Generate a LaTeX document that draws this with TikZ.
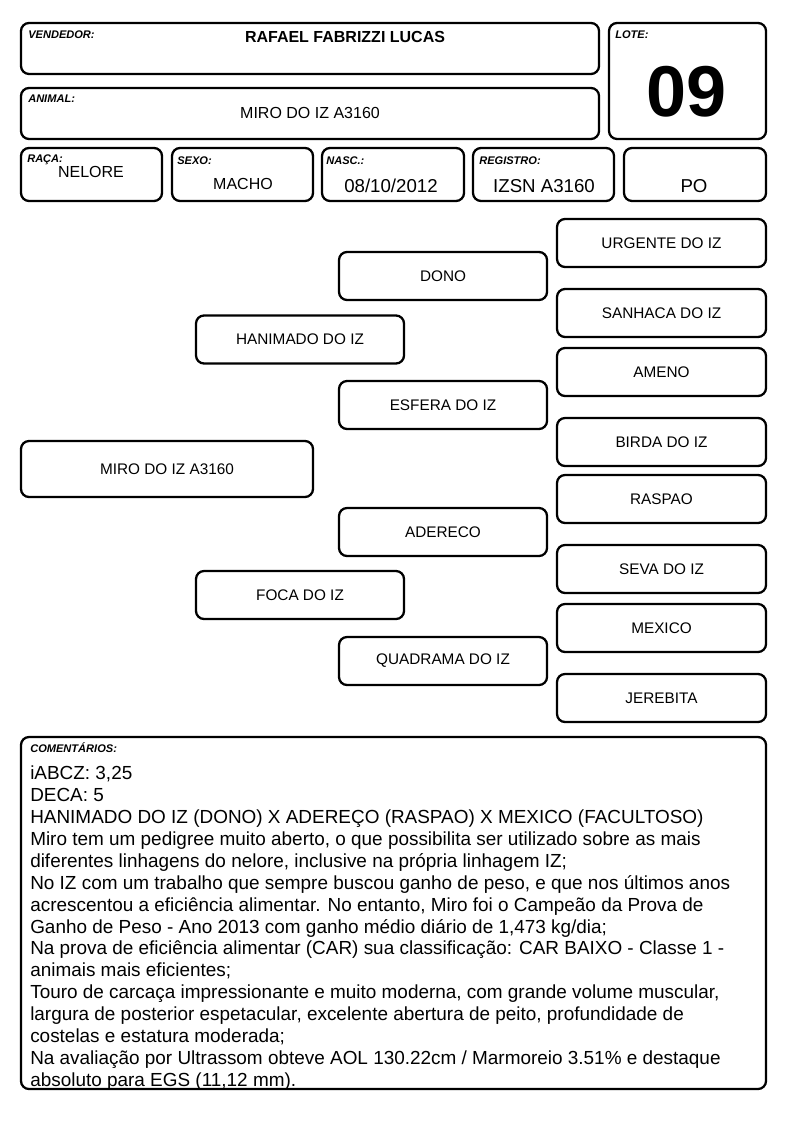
\documentclass[tikz,border=0pt]{standalone}
\usepackage{fontspec}
\setmainfont{Liberation Sans}
\tikzset{
  box/.style={draw, line width=1.7pt, rounded corners=6pt},
  pedbox/.style={box, minimum width=156pt, minimum height=36pt, inner sep=0pt, font=\fontsize{11.5}{14}\selectfont},
  tag/.style={anchor=base west, inner sep=0pt, font=\fontsize{8.3}{9}\selectfont\bfseries\itshape},
  value/.style={inner sep=0pt, font=\fontsize{12}{14}\selectfont},
  bigvalue/.style={inner sep=0pt, font=\fontsize{14}{16}\selectfont},
}
\begin{document}
\begin{tikzpicture}[x=0.75pt,y=-0.75pt]
\useasboundingbox (0,0) rectangle (794,1123);
% header boxes
\draw[box] (21,23) rectangle (599,74);
\draw[box] (21,88) rectangle (599,139);
\draw[box] (609,23) rectangle (766,139);
\draw[box] (21,148) rectangle (162,201);
\draw[box] (172,148) rectangle (313,201);
\draw[box] (322,148) rectangle (464,201);
\draw[box] (473,148) rectangle (614,201);
\draw[box] (624,148) rectangle (766,201);
\node[tag] (tvend) at (28,38.5) {VENDEDOR:};
\node[value, font=\fontsize{12}{13}\selectfont\bfseries] (vend) at (345,37) {RAFAEL FABRIZZI LUCAS};
\node[tag] (tanim) at (28,103) {ANIMAL:};
\node[value] (anim) at (310,113) {MIRO DO IZ A3160};
\node[tag] (tlote) at (615,39) {LOTE:};
\node[inner sep=0pt, font=\fontsize{54}{54}\selectfont\bfseries] (lote) at (687,92) {09};
\node[tag] (traca) at (27,163) {RAÇA:};
\node[value] (raca) at (91,172) {NELORE};
\node[tag] (tsexo) at (177,165) {SEXO:};
\node[value] (sexo) at (243,184) {MACHO};
\node[tag] (tnasc) at (326,165) {NASC.:};
\node[bigvalue] (nasc) at (391,186) {08/10/2012};
\node[tag] (treg) at (479,165) {REGISTRO:};
\node[bigvalue] (reg) at (544,186) {IZSN A3160};
\node[bigvalue] (cat) at (694,186) {PO};
% pedigree
\node[pedbox, minimum width=219pt, minimum height=42pt] (miro) at (167,469) {MIRO DO IZ A3160};
\node[pedbox] (pai) at (300,339.5) {HANIMADO DO IZ};
\node[pedbox] (mae) at (300,595) {FOCA DO IZ};
\node[pedbox] (avopp) at (443,276) {DONO};
\node[pedbox] (avopm) at (443,405) {ESFERA DO IZ};
\node[pedbox] (avomp) at (443,532) {ADERECO};
\node[pedbox] (avomm) at (443,661) {QUADRAMA DO IZ};
\node[pedbox, minimum width=156.75pt] (b1) at (661.5,243) {URGENTE DO IZ};
\node[pedbox, minimum width=156.75pt] (b2) at (661.5,313) {SANHACA DO IZ};
\node[pedbox, minimum width=156.75pt] (b3) at (661.5,372) {AMENO};
\node[pedbox, minimum width=156.75pt] (b4) at (661.5,442) {BIRDA DO IZ};
\node[pedbox, minimum width=156.75pt] (b5) at (661.5,499) {RASPAO};
\node[pedbox, minimum width=156.75pt] (b6) at (661.5,569) {SEVA DO IZ};
\node[pedbox, minimum width=156.75pt] (b7) at (661.5,628) {MEXICO};
\node[pedbox, minimum width=156.75pt] (b8) at (661.5,698) {JEREBITA};
% comments
\draw[box] (21,737) rectangle (766,1089);
\node[tag] (tcom) at (30,752) {COMENTÁRIOS:};
\node[anchor=north west, inner sep=0pt, align=left, font=\fontsize{14.2}{16.4}\selectfont] (com) at (30,766) {iABCZ: 3,25\\
DECA: 5\\
HANIMADO DO IZ (DONO) X ADEREÇO (RASPAO) X MEXICO (FACULTOSO)\\
Miro tem um pedigree muito aberto, o que possibilita ser utilizado sobre as mais\\
diferentes linhagens do nelore, inclusive na própria linhagem IZ;\\
No IZ com um trabalho que sempre buscou ganho de peso, e que nos últimos anos\\
acrescentou a eficiência alimentar. No entanto, Miro foi o Campeão da Prova de\\
Ganho de Peso - Ano 2013 com ganho médio diário de 1,473 kg/dia;\\
Na prova de eficiência alimentar (CAR) sua classificação: CAR BAIXO - Classe 1 -\\
animais mais eficientes;\\
Touro de carcaça impressionante e muito moderna, com grande volume muscular,\\
largura de posterior espetacular, excelente abertura de peito, profundidade de\\
costelas e estatura moderada;\\
Na avaliação por Ultrassom obteve AOL 130.22cm / Marmoreio 3.51\% e destaque\\
absoluto para EGS (11,12 mm).};
\end{tikzpicture}
\end{document}
